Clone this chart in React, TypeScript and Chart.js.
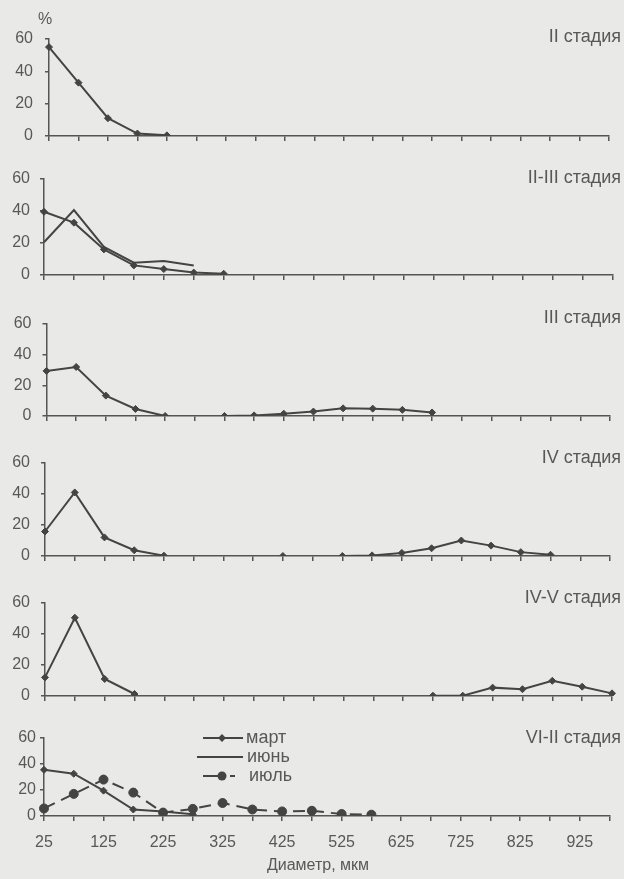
import React, { useEffect, useRef } from 'react';
import { Chart, registerables } from 'chart.js';
Chart.register(...registerables);

const W = 624;
const H = 879;
const N = null;

const diameters = [25, 75, 125, 175, 225, 275, 325, 375, 425, 475, 525, 575, 625, 675, 725, 775, 825, 875, 925, 975];
const tickLabels = ['25', '', '125', '', '225', '', '325', '', '425', '', '525', '', '625', '', '725', '', '825', '', '925', ''];
const seriesNames = ['март', 'июнь', 'июль'];
const stageTitles = ['II стадия', 'II-III стадия', 'III стадия', 'IV стадия', 'IV-V стадия', 'VI-II стадия'];
const yTicks = [0, 20, 40, 60];
const xTitle = 'Диаметр, мкм';
const yUnit = '%';

const stage1Mar = [55, 33, 11, 1.5, 0.4, N, N, N, N, N, N, N, N, N, N, N, N, N, N, N];
const stage2Mar = [39.5, 32.7, 16, 6, 3.7, 1.5, 0.8, N, N, N, N, N, N, N, N, N, N, N, N, N];
const stage2Jun = [20.5, 40.6, 17.5, 7.7, 8.8, 6, N, N, N, N, N, N, N, N, N, N, N, N, N, N];
const stage3Mar = [29.4, 32, 13.3, 4.6, 0, N, 0, 0.4, 1.5, 2.9, 5, 4.8, 4, 2.3, N, N, N, N, N, N];
const stage4Mar = [15.8, 41, 12, 3.7, 0.2, N, N, N, 0, N, 0, 0.4, 2, 5, 10, 6.7, 2.5, 0.8, N, N];
const stage5Mar = [12, 50.5, 11, 1.3, N, N, N, N, N, N, N, N, N, 0.2, 0.2, 5.4, 4.4, 9.8, 6, 1.7];
const stage6Mar = [35.5, 32.5, 19.5, 5, 3.5, 1.3, N, N, N, N, N, N, N, N, N, N, N, N, N, N];
const stage6Jul = [5.8, 17, 28, 18, 2.6, 5.5, 10, 5, 3.5, 4, 1.5, 1, N, N, N, N, N, N, N, N];

const FONT = "'Liberation Sans', Arial, sans-serif";
const LINE = '#444444';
const AXIS = '#555555';
const TEXT = '#585858';
const BG = '#e9e9e7';

type Kind = 0 | 1 | 2;
interface Panel {
  left: number; right: number; top: number; bottom: number; ypad: number; titleY: number;
  sets: { kind: Kind; data: (number | null)[] }[];
}

const panels: Panel[] = [
  { left: 49, right: 609, top: 39, bottom: 136, ypad: 12, titleY: 37, sets: [{ kind: 0, data: stage1Mar }] },
  { left: 44, right: 613, top: 179, bottom: 275, ypad: 10, titleY: 178, sets: [{ kind: 1, data: stage2Jun }, { kind: 0, data: stage2Mar }] },
  { left: 46.5, right: 610, top: 324, bottom: 416, ypad: 11, titleY: 318, sets: [{ kind: 0, data: stage3Mar }] },
  { left: 45, right: 610, top: 463, bottom: 556, ypad: 11, titleY: 458, sets: [{ kind: 0, data: stage4Mar }] },
  { left: 45, right: 612, top: 603, bottom: 696, ypad: 11, titleY: 598, sets: [{ kind: 0, data: stage5Mar }] },
  { left: 44, right: 609.5, top: 738, bottom: 816, ypad: 4, titleY: 738, sets: [{ kind: 0, data: stage6Mar }, { kind: 2, data: stage6Jul }] },
];

function datasetFor(kind: Kind, data: (number | null)[]) {
  const base: any = {
    label: seriesNames[kind],
    data,
    borderColor: LINE,
    backgroundColor: LINE,
    borderWidth: 2,
    tension: 0,
    spanGaps: false,
    pointBackgroundColor: LINE,
    pointBorderColor: LINE,
    pointBorderWidth: 1,
  };
  if (kind === 0) { base.pointStyle = 'rectRot'; base.pointRadius = 3.5; }
  if (kind === 1) { base.pointRadius = 0; }
  if (kind === 2) { base.pointStyle = 'circle'; base.pointRadius = 4.5; base.borderDash = [12, 7]; }
  return base;
}

function drawDiamond(ctx: CanvasRenderingContext2D, x: number, y: number, r: number) {
  ctx.beginPath();
  ctx.moveTo(x, y - r); ctx.lineTo(x + r, y); ctx.lineTo(x, y + r); ctx.lineTo(x - r, y); ctx.closePath();
  ctx.fill();
}

function makeOverlay(idx: number) {
  return {
    id: 'overlay' + idx,
    afterDraw(chart: any) {
      const ctx: CanvasRenderingContext2D = chart.ctx;
      const p = panels[idx];
      ctx.save();
      ctx.fillStyle = TEXT;
      ctx.font = `18px ${FONT}`;
      ctx.textAlign = 'right';
      ctx.textBaseline = 'middle';
      ctx.fillText(stageTitles[idx], 621, p.titleY);
      if (idx === 0) {
        ctx.font = `16px ${FONT}`;
        ctx.textAlign = 'center';
        ctx.fillText(yUnit, 45, 20);
      }
      if (idx === panels.length - 1) {
        ctx.font = `16px ${FONT}`;
        ctx.textAlign = 'center';
        ctx.fillText(xTitle, 318, 866);
        const rows = [738, 757, 776];
        ctx.strokeStyle = LINE;
        ctx.fillStyle = LINE;
        ctx.lineWidth = 2;
        ctx.beginPath(); ctx.moveTo(203, rows[0]); ctx.lineTo(243, rows[0]); ctx.stroke();
        drawDiamond(ctx, 222, rows[0], 4);
        ctx.beginPath(); ctx.moveTo(197, rows[1]); ctx.lineTo(243, rows[1]); ctx.stroke();
        ctx.beginPath(); ctx.moveTo(203, rows[2]); ctx.lineTo(226, rows[2]); ctx.stroke();
        ctx.beginPath(); ctx.moveTo(230, rows[2]); ctx.lineTo(235, rows[2]); ctx.stroke();
        ctx.beginPath(); ctx.arc(222, rows[2], 4.5, 0, Math.PI * 2); ctx.fill();
        ctx.fillStyle = TEXT;
        ctx.font = `18px ${FONT}`;
        ctx.textAlign = 'left';
        ctx.textBaseline = 'middle';
        ctx.fillText(seriesNames[0], 246, rows[0]);
        ctx.fillText(seriesNames[1], 247, rows[1]);
        ctx.fillText(seriesNames[2], 249, rows[2]);
      }
      ctx.restore();
    },
  };
}

function PanelChart({ idx }: { idx: number }) {
  const ref = useRef<HTMLCanvasElement>(null);
  useEffect(() => {
    const p = panels[idx];
    const last = idx === panels.length - 1;
    const xh = last ? 60 : 6;
    const chart = new Chart(ref.current!, {
      type: 'line',
      data: {
        labels: diameters.map(String),
        datasets: p.sets.map((s) => datasetFor(s.kind, s.data)),
      },
      options: {
        animation: false,
        responsive: false,
        events: [],
        layout: { padding: { top: p.top, left: 0, right: W - p.right, bottom: H - p.bottom - xh } },
        plugins: { legend: { display: false }, tooltip: { enabled: false } },
        scales: {
          x: {
            type: 'category',
            offset: false,
            grid: { display: true, drawOnChartArea: false, drawTicks: true, tickLength: 5, color: AXIS, lineWidth: 1.5 },
            border: { display: true, color: AXIS, width: 1.5 },
            ticks: {
              display: last,
              autoSkip: false,
              maxRotation: 0,
              minRotation: 0,
              padding: 12,
              color: TEXT,
              font: { family: FONT, size: 16 },
              callback: (_v: any, i: number) => tickLabels[i],
            },
            afterFit: (s: any) => { s.height = xh; },
          },
          y: {
            min: 0,
            max: 60,
            afterBuildTicks: (s: any) => { s.ticks = yTicks.map((v) => ({ value: v })); },
            ticks: { padding: p.ypad, color: TEXT, font: { family: FONT, size: 16 } },
            grid: { display: true, drawOnChartArea: false, drawTicks: true, tickLength: 4, color: AXIS, lineWidth: 1.5 },
            border: { display: true, color: AXIS, width: 1.5 },
            afterFit: (s: any) => { s.width = p.left; },
          },
        },
      } as any,
      plugins: [makeOverlay(idx)],
    });
    return () => chart.destroy();
  }, [idx]);
  return <canvas ref={ref} width={W} height={H} style={{ position: 'absolute', left: 0, top: 0, width: W, height: H }} />;
}

export default function App() {
  return (
    <div style={{ position: 'absolute', left: 0, top: 0, width: W, height: H, background: BG, overflow: 'hidden' }}>
      {panels.map((_, i) => <PanelChart key={i} idx={i} />)}
    </div>
  );
}
